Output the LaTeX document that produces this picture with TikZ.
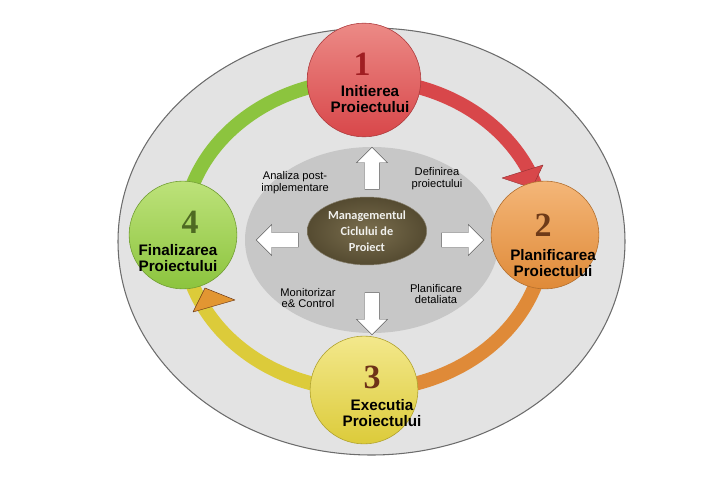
\documentclass[tikz,border=0pt]{standalone}
\usepackage{fontspec}
\usepackage{tikz}
\usetikzlibrary{positioning,shapes.geometric,shapes.arrows}
\setmainfont{Liberation Sans}
\newfontfamily\numfont{Liberation Serif}
\newfontfamily\midfont{Carlito}
\definecolor{backa}{HTML}{E3E3E3}
\definecolor{backb}{HTML}{C7C7C7}
\definecolor{redlt}{HTML}{EC8A86}
\definecolor{redbs}{HTML}{D8474A}
\definecolor{orglt}{HTML}{F4B678}
\definecolor{orgbs}{HTML}{DF8A38}
\definecolor{yellt}{HTML}{F3E88C}
\definecolor{yelbs}{HTML}{DCCB3A}
\definecolor{grnlt}{HTML}{BDE27A}
\definecolor{grnbs}{HTML}{8CC43E}
\definecolor{olive}{HTML}{554B31}
\definecolor{olivelt}{HTML}{7A6E4E}
\definecolor{numa}{HTML}{A01E22}
\definecolor{numb}{HTML}{6E3A18}
\definecolor{numc}{HTML}{6E3218}
\definecolor{numd}{HTML}{4E6A22}

\begin{document}
\begin{tikzpicture}[x=0.03cm, y=0.03cm,
    phase/.style n args={2}{circle, minimum size=92pt, inner sep=0pt, top color=#1, bottom color=#2, draw=#2!80!black, line width=0.5pt},
    ring/.style={line width=12pt, draw=#1},
    bignum/.style={font=\numfont\bfseries\fontsize{29}{29}\selectfont, inner sep=0pt},
    phasetxt/.style={font=\bfseries\fontsize{13}{13.7}\selectfont, align=center, inner sep=0pt},
    note/.style={font=\fontsize{9.5}{10.2}\selectfont, align=center, inner sep=0pt},
    core/.style={ellipse, inner color=olivelt, outer color=olive, draw=olive!70!white, minimum width=102pt, minimum height=58pt, inner sep=0pt, align=center, text=white!92!olive, font=\midfont\bfseries\fontsize{10.5}{13.6}\selectfont},
    blockarrow/.style={single arrow, draw=gray!75!black, fill=white, minimum height=36pt, single arrow head extend=7pt, single arrow head indent=0pt, inner sep=6pt}
  ]
    \useasboundingbox (0,0) rectangle (720,-478);
    % background
    \draw[fill=backa, draw=gray!85!black, line width=0.9pt] (371.5,-241.5) ellipse [x radius=253.5, y radius=213.5];
    \fill[backb] (372,-240) ellipse [x radius=127, y radius=93];

    \coordinate (ringc) at (364,-235);
    \coordinate (initP) at (364,-80);
    \coordinate (planP) at (545,-235);
    \coordinate (execP) at (364,-390);
    \coordinate (finP) at (183,-235);

    % ring
    \draw[ring=grnbs] (finP) arc[start angle=180, end angle=90, x radius=181, y radius=155];
    \draw[ring=redbs] (initP) arc[start angle=90, end angle=0, x radius=181, y radius=155];
    \draw[ring=orgbs] (planP) arc[start angle=0, end angle=-90, x radius=181, y radius=155];
    \draw[ring=yelbs] (execP) arc[start angle=-90, end angle=-180, x radius=181, y radius=155];

    % arrow heads on the ring
    \draw[fill=redbs, draw=redbs!70!black, line join=round] (502,-178) -- (543,-165) -- (532,-188) -- cycle;
    \draw[fill=orgbs!90!yellow, draw=numb, line join=round] (193,-312) -- (205,-288) -- (235,-300) -- cycle;

    % phases
    \node[phase={redlt}{redbs}, minimum size=97pt] (init) at (initP) {};
    \node[phase={orglt}{orgbs}] (plan) at (planP) {};
    \node[phase={yellt}{yelbs}] (exec) at (execP) {};
    \node[phase={grnlt}{grnbs}] (fin) at (finP) {};

    \node[bignum, text=numa] (initN) at (362,-64) {1};
    \node[bignum, text=numb] (planN) at (543,-225) {2};
    \node[bignum, text=numc] (execN) at (372,-377) {3};
    \node[bignum, text=numd] (finN) at (190,-222) {4};

    \node[phasetxt] (initT) at (370,-99) {Initierea\\Proiectului};
    \node[phasetxt] (planT) at (553,-263) {Planificarea\\Proiectului};
    \node[phasetxt] (execT) at (382,-413) {Executia\\Proiectului};
    \node[phasetxt] (finT) at (178,-258) {Finalizarea\\Proiectului};

    % centre
    \node[core] (core) at (367,-231) {Managementul\\Ciclului de\\Proiect};
    \node[blockarrow, rotate=90] (upA) at (372,-172) {};
    \node[blockarrow, rotate=180] (leftA) at (281,-240) {};
    \node[blockarrow] (rightA) at (459,-240) {};
    \node[blockarrow, rotate=-90] (downA) at (372,-310) {};

    \node[note] (postN) at (295,-183) {Analiza post-\\implementare};
    \node[note] (defN) at (437,-179) {Definirea\\proiectului};
    \node[note] (monN) at (308,-298) {Monitorizar\\e\& Control};
    \node[note] (detN) at (436,-294) {Planificare\\detaliata};
  \end{tikzpicture}
\end{document}
